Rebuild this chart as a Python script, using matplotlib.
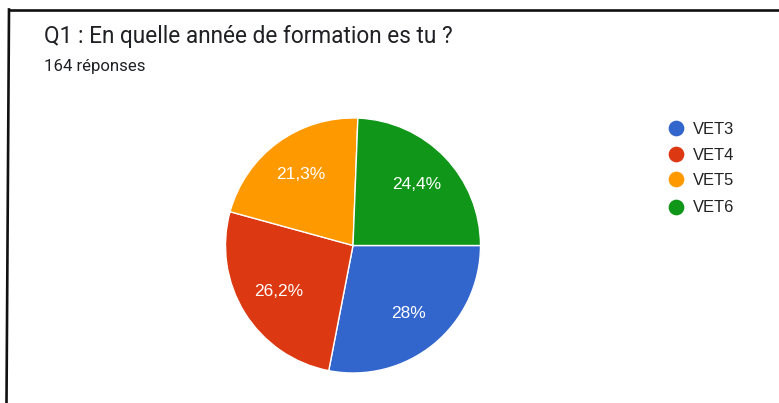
import matplotlib
matplotlib.use("Agg")
import matplotlib.pyplot as plt
from matplotlib.lines import Line2D

title = "Q1 : En quelle année de formation es tu ?"
subtitle = "164 réponses"
categories = ["VET3", "VET4", "VET5", "VET6"]
counts = [46, 43, 35, 40]
colors = ["#3366cc", "#dc3912", "#ff9900", "#109618"]

W, H = 779, 403
fig = plt.figure(figsize=(W / 100, H / 100), dpi=100)
fig.patch.set_facecolor("white")

def fx(px):
    return px / W

def fy(py):
    return 1 - py / H

# frame lines (left and top)
fig.add_artist(Line2D([fx(9), fx(779)], [fy(9.5), fy(9.5)], transform=fig.transFigure,
                      color="#111111", lw=1.9))
fig.add_artist(Line2D([fx(9), fx(6.5)], [fy(9.5), fy(403)], transform=fig.transFigure,
                      color="#111111", lw=1.9))

# titles
fig.text(fx(44), fy(42.5), title, fontsize=16.3, family="Roboto", color="#202124",
         ha="left", va="baseline")
fig.text(fx(44), fy(70.5), subtitle, fontsize=12.1, family="Roboto", color="#202124",
         ha="left", va="baseline")

# pie
cx, cy, r = 353, 245.5, 127.5
ax = fig.add_axes([fx(cx - r), fy(cy + r), (2 * r) / W, (2 * r) / H])

def fmt(p):
    s = f"{p:.1f}"
    if s.endswith(".0"):
        s = s[:-2]
    return s.replace(".", ",") + "%"

wedges, texts, autotexts = ax.pie(
    counts, colors=colors, startangle=0, counterclock=False,
    autopct=fmt, pctdistance=0.69, radius=1,
    wedgeprops=dict(edgecolor="white", linewidth=1.0),
    textprops=dict(color="white", fontsize=12.5, family="Liberation Sans"),
)
ax.set_xlim(-1, 1)
ax.set_ylim(-1, 1)
ax.set_aspect("auto")
ax.axis("off")

# legend
leg_y = [128.3, 153.5, 179.5, 206.5]
for name, col, yy in zip(categories, colors, leg_y):
    fig.add_artist(Line2D([fx(676)], [fy(yy)], transform=fig.transFigure, marker="o",
                          markersize=10.3, color=col, linestyle="none"))
    fig.text(fx(693), fy(yy), name, fontsize=11.9, family="Liberation Sans",
             color="#222222", ha="left", va="center_baseline")

fig.savefig("out.png", dpi=100, facecolor="white")
